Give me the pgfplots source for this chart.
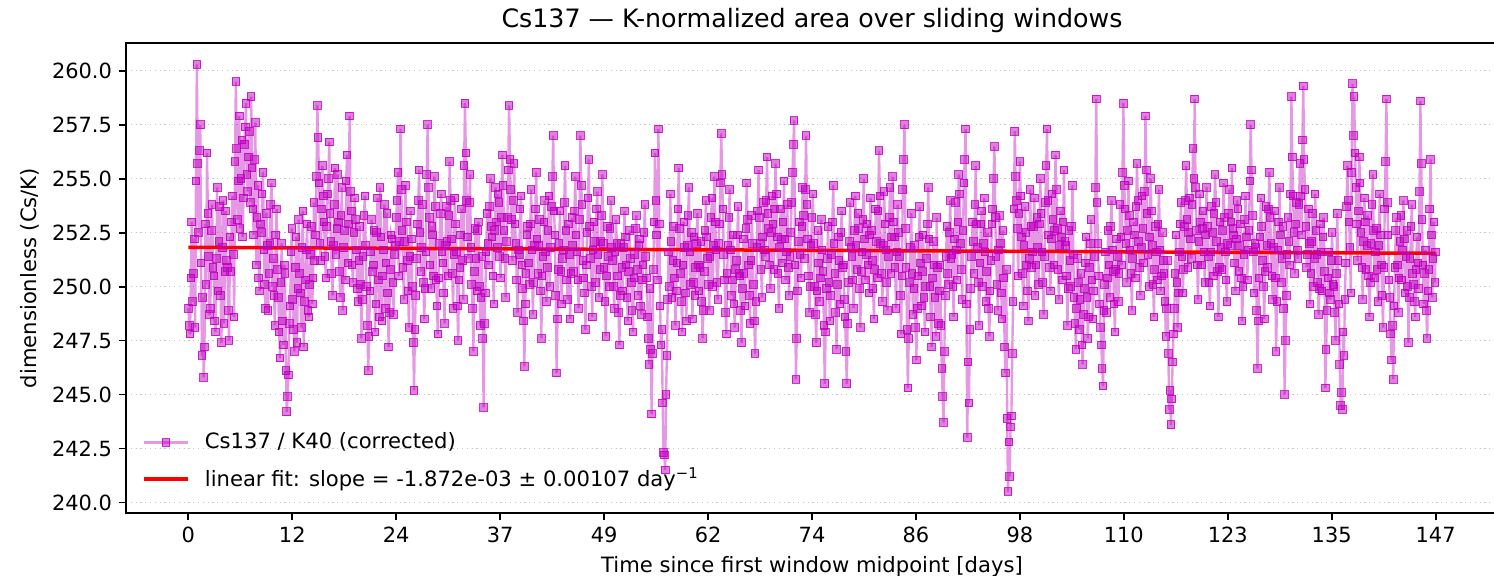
\documentclass[border=0pt]{standalone}
\usepackage{fontspec}
\setmainfont{DejaVu Sans}
\usepackage{pgfplots}
\usepackage{pgfplotstable}
\pgfplotsset{compat=1.18}
\definecolor{mag}{HTML}{BF00BF}
\definecolor{fitred}{HTML}{FF0000}

% Cs137/K40 ratio, one value every 0.1 day from day 0 to day 147 (50 values per 5-day line)
\pgfplotstableread[row sep=\\]{
y\\
249.0\\ 248.2\\ 247.8\\ 250.4\\ 253.0\\ 249.3\\ 250.6\\ 252.2\\ 248.1\\ 254.9\\ 260.3\\ 255.7\\ 252.5\\ 256.3\\ 257.5\\ 251.1\\ 246.8\\ 249.5\\ 245.8\\ 247.2\\ 252.9\\ 250.1\\ 256.2\\ 253.4\\ 251.4\\ 248.7\\ 249.0\\ 252.6\\ 253.8\\ 250.9\\ 250.5\\ 248.4\\ 247.9\\ 251.3\\ 254.6\\ 249.8\\ 252.1\\ 253.7\\ 249.6\\ 247.4\\ 251.8\\ 254.0\\ 248.3\\ 250.7\\ 253.5\\ 251.2\\ 250.9\\ 248.9\\ 247.5\\ 252.3\\
250.7\\ 253.0\\ 254.2\\ 251.5\\ 248.6\\ 255.8\\ 259.5\\ 256.4\\ 253.1\\ 254.9\\ 257.9\\ 252.7\\ 255.0\\ 256.8\\ 252.3\\ 254.1\\ 256.6\\ 257.4\\ 258.5\\ 255.2\\ 254.4\\ 256.0\\ 257.2\\ 253.9\\ 258.8\\ 255.5\\ 253.6\\ 252.4\\ 255.9\\ 257.6\\ 251.0\\ 253.2\\ 254.7\\ 250.4\\ 249.8\\ 252.9\\ 252.5\\ 254.3\\ 255.3\\ 251.7\\ 250.1\\ 249.0\\ 253.4\\ 251.9\\ 248.9\\ 250.6\\ 252.0\\ 253.8\\ 254.8\\ 250.0\\
251.3\\ 249.6\\ 248.2\\ 252.4\\ 253.6\\ 250.8\\ 249.5\\ 247.9\\ 246.7\\ 250.2\\ 252.0\\ 248.4\\ 247.3\\ 251.0\\ 250.6\\ 246.1\\ 244.2\\ 244.9\\ 245.9\\ 248.3\\ 249.1\\ 251.6\\ 252.7\\ 249.4\\ 248.0\\ 247.0\\ 250.9\\ 252.3\\ 247.4\\ 249.9\\ 253.1\\ 250.6\\ 249.7\\ 248.1\\ 251.8\\ 253.5\\ 247.2\\ 249.3\\ 250.3\\ 251.7\\ 252.9\\ 248.9\\ 248.6\\ 250.1\\ 251.5\\ 252.8\\ 249.2\\ 250.4\\ 253.9\\ 251.2\\
252.4\\ 255.1\\ 258.4\\ 256.9\\ 254.8\\ 252.0\\ 251.2\\ 253.6\\ 255.6\\ 254.2\\ 253.0\\ 251.4\\ 250.4\\ 252.8\\ 254.3\\ 255.0\\ 256.7\\ 253.4\\ 252.1\\ 250.6\\ 249.6\\ 251.9\\ 253.8\\ 255.5\\ 251.5\\ 252.7\\ 255.2\\ 253.0\\ 250.7\\ 249.5\\ 253.3\\ 254.6\\ 248.9\\ 251.8\\ 252.6\\ 250.3\\ 254.9\\ 256.1\\ 251.1\\ 252.9\\ 257.9\\ 254.4\\ 253.5\\ 251.0\\ 250.2\\ 252.5\\ 254.1\\ 253.1\\ 251.7\\ 249.9\\
249.3\\ 251.2\\ 252.8\\ 250.1\\ 247.6\\ 249.4\\ 251.4\\ 253.3\\ 254.2\\ 251.9\\ 250.0\\ 248.2\\ 246.1\\ 247.7\\ 249.8\\ 251.6\\ 253.1\\ 250.7\\ 251.0\\ 252.6\\ 247.9\\ 249.2\\ 252.5\\ 254.1\\ 250.3\\ 248.6\\ 254.6\\ 252.3\\ 248.4\\ 250.5\\ 251.7\\ 253.8\\ 249.0\\ 251.1\\ 253.4\\ 249.7\\ 247.2\\ 248.8\\ 250.8\\ 252.4\\ 252.2\\ 250.2\\ 248.7\\ 251.5\\ 251.9\\ 253.2\\ 254.0\\ 255.3\\ 250.5\\ 252.1\\
257.3\\ 254.5\\ 252.6\\ 250.9\\ 249.4\\ 252.1\\ 254.7\\ 253.0\\ 251.2\\ 249.8\\ 248.1\\ 251.4\\ 253.5\\ 252.2\\ 250.0\\ 247.4\\ 245.2\\ 248.0\\ 249.6\\ 251.3\\ 252.9\\ 254.0\\ 255.4\\ 252.5\\ 250.7\\ 251.8\\ 253.8\\ 250.2\\ 248.5\\ 249.9\\ 251.6\\ 255.2\\ 257.5\\ 254.6\\ 253.2\\ 251.0\\ 249.9\\ 252.8\\ 252.4\\ 250.5\\ 255.1\\ 253.7\\ 250.3\\ 249.1\\ 247.8\\ 250.4\\ 252.0\\ 253.4\\ 254.3\\ 251.6\\
251.1\\ 249.7\\ 248.3\\ 251.9\\ 253.7\\ 252.1\\ 250.5\\ 253.3\\ 255.8\\ 254.0\\ 252.2\\ 250.6\\ 249.0\\ 251.5\\ 254.1\\ 252.9\\ 251.6\\ 249.1\\ 247.5\\ 250.3\\ 250.9\\ 252.4\\ 253.6\\ 251.2\\ 249.4\\ 255.6\\ 258.5\\ 256.2\\ 254.0\\ 252.3\\ 251.3\\ 253.9\\ 255.2\\ 251.8\\ 250.1\\ 249.0\\ 247.0\\ 250.7\\ 252.7\\ 251.3\\ 249.8\\ 252.6\\ 253.0\\ 250.0\\ 248.2\\ 249.5\\ 251.4\\ 247.6\\ 244.4\\ 248.3\\
249.7\\ 251.6\\ 253.4\\ 252.0\\ 251.0\\ 253.7\\ 255.0\\ 252.8\\ 252.3\\ 250.5\\ 249.2\\ 252.6\\ 254.6\\ 253.0\\ 251.8\\ 254.3\\ 253.9\\ 251.4\\ 250.4\\ 253.2\\ 256.1\\ 254.7\\ 252.6\\ 251.3\\ 249.5\\ 252.1\\ 253.2\\ 255.4\\ 258.4\\ 255.9\\ 254.5\\ 253.1\\ 251.2\\ 254.0\\ 255.7\\ 252.9\\ 252.0\\ 250.3\\ 248.8\\ 251.7\\ 251.5\\ 253.6\\ 254.2\\ 251.0\\ 249.9\\ 248.4\\ 246.3\\ 249.2\\ 250.6\\ 252.4\\
252.8\\ 251.1\\ 250.1\\ 252.9\\ 254.5\\ 251.7\\ 248.7\\ 250.2\\ 251.9\\ 253.6\\ 255.3\\ 252.2\\ 250.6\\ 251.9\\ 253.1\\ 249.8\\ 247.6\\ 250.5\\ 251.4\\ 253.0\\ 254.0\\ 251.6\\ 249.3\\ 250.9\\ 252.6\\ 254.2\\ 250.0\\ 251.8\\ 253.7\\ 255.1\\ 257.0\\ 253.5\\ 252.4\\ 249.6\\ 246.0\\ 248.5\\ 250.8\\ 252.0\\ 253.5\\ 250.7\\ 249.2\\ 251.3\\ 251.7\\ 253.9\\ 255.6\\ 252.6\\ 250.3\\ 249.4\\ 252.9\\ 251.5\\
248.5\\ 250.6\\ 253.2\\ 251.9\\ 250.7\\ 253.5\\ 255.1\\ 252.4\\ 251.6\\ 250.3\\ 249.0\\ 253.1\\ 257.0\\ 254.7\\ 253.8\\ 251.2\\ 250.4\\ 249.7\\ 248.0\\ 251.0\\ 252.5\\ 254.1\\ 255.9\\ 252.8\\ 251.3\\ 250.0\\ 248.6\\ 251.7\\ 253.0\\ 252.1\\ 250.2\\ 253.6\\ 254.4\\ 251.5\\ 249.5\\ 250.8\\ 252.1\\ 253.3\\ 255.2\\ 252.0\\ 250.9\\ 249.3\\ 247.7\\ 250.5\\ 252.8\\ 251.4\\ 250.0\\ 252.7\\ 254.0\\ 251.8\\
251.2\\ 250.0\\ 249.0\\ 251.6\\ 253.1\\ 252.0\\ 250.5\\ 248.8\\ 247.3\\ 249.6\\ 252.0\\ 250.9\\ 249.8\\ 251.8\\ 253.5\\ 252.3\\ 251.0\\ 249.5\\ 248.4\\ 250.7\\ 252.6\\ 251.3\\ 250.2\\ 248.9\\ 247.9\\ 250.4\\ 251.5\\ 252.7\\ 253.3\\ 250.8\\ 249.6\\ 251.9\\ 252.2\\ 249.1\\ 248.7\\ 250.3\\ 251.0\\ 252.5\\ 253.8\\ 251.4\\ 250.4\\ 248.6\\ 247.6\\ 246.4\\ 249.9\\ 247.1\\ 244.1\\ 246.9\\ 250.8\\ 253.0\\
256.2\\ 254.0\\ 252.4\\ 250.3\\ 257.3\\ 252.9\\ 249.1\\ 247.3\\ 248.0\\ 244.6\\ 242.3\\ 242.2\\ 241.5\\ 245.0\\ 246.8\\ 249.4\\ 251.6\\ 250.0\\ 254.3\\ 252.1\\ 249.5\\ 251.2\\ 252.8\\ 250.4\\ 248.2\\ 249.8\\ 251.1\\ 253.6\\ 255.5\\ 252.7\\ 250.6\\ 249.3\\ 247.9\\ 251.0\\ 253.0\\ 251.8\\ 249.7\\ 248.4\\ 251.9\\ 253.3\\ 254.6\\ 251.6\\ 250.1\\ 252.5\\ 248.5\\ 250.2\\ 252.3\\ 249.6\\ 250.9\\ 252.0\\
253.4\\ 251.0\\ 249.8\\ 250.9\\ 252.1\\ 249.3\\ 247.6\\ 248.9\\ 250.7\\ 252.6\\ 254.0\\ 252.3\\ 251.3\\ 250.1\\ 248.9\\ 251.4\\ 253.2\\ 254.1\\ 250.0\\ 251.9\\ 255.1\\ 253.0\\ 251.7\\ 250.2\\ 249.4\\ 252.0\\ 252.9\\ 254.8\\ 257.1\\ 255.2\\ 253.6\\ 251.5\\ 250.3\\ 248.8\\ 247.8\\ 250.6\\ 251.9\\ 253.2\\ 254.5\\ 251.7\\ 249.6\\ 250.3\\ 252.4\\ 249.2\\ 248.1\\ 250.8\\ 251.2\\ 252.4\\ 253.7\\ 250.6\\
250.5\\ 248.9\\ 247.4\\ 249.9\\ 252.2\\ 250.6\\ 249.1\\ 252.7\\ 254.8\\ 253.1\\ 251.0\\ 249.6\\ 248.3\\ 251.2\\ 253.3\\ 252.0\\ 250.1\\ 248.4\\ 246.9\\ 249.3\\ 251.8\\ 253.5\\ 255.4\\ 253.2\\ 252.0\\ 250.8\\ 249.5\\ 252.3\\ 253.9\\ 251.7\\ 251.4\\ 254.0\\ 256.0\\ 253.4\\ 252.7\\ 251.0\\ 249.9\\ 252.5\\ 254.2\\ 252.9\\ 250.8\\ 253.6\\ 255.7\\ 254.3\\ 252.3\\ 250.6\\ 249.0\\ 251.8\\ 253.6\\ 252.2\\
251.1\\ 253.0\\ 254.9\\ 252.2\\ 250.3\\ 251.6\\ 253.8\\ 250.9\\ 249.6\\ 251.4\\ 252.5\\ 253.9\\ 255.3\\ 256.6\\ 257.7\\ 251.0\\ 245.7\\ 247.6\\ 249.8\\ 252.1\\ 253.0\\ 251.5\\ 250.4\\ 252.8\\ 254.6\\ 253.3\\ 251.3\\ 254.5\\ 257.0\\ 253.8\\ 252.2\\ 250.5\\ 248.8\\ 250.0\\ 251.9\\ 253.2\\ 254.3\\ 252.0\\ 250.0\\ 248.7\\ 247.4\\ 249.8\\ 252.6\\ 251.1\\ 249.3\\ 250.4\\ 253.1\\ 251.7\\ 250.7\\ 248.2\\
245.5\\ 247.9\\ 249.9\\ 251.3\\ 252.8\\ 250.2\\ 248.4\\ 249.6\\ 251.5\\ 253.0\\ 254.7\\ 252.0\\ 250.6\\ 248.8\\ 247.1\\ 250.1\\ 252.3\\ 251.2\\ 249.2\\ 252.5\\ 253.5\\ 250.9\\ 251.0\\ 249.4\\ 248.6\\ 247.0\\ 245.5\\ 248.3\\ 250.2\\ 252.1\\ 253.9\\ 251.8\\ 251.4\\ 250.3\\ 249.0\\ 252.6\\ 254.2\\ 251.9\\ 250.8\\ 253.4\\ 252.7\\ 249.9\\ 248.1\\ 250.7\\ 251.6\\ 253.1\\ 255.0\\ 252.2\\ 250.3\\ 251.5\\
252.9\\ 251.0\\ 249.7\\ 252.4\\ 254.1\\ 252.6\\ 251.2\\ 249.9\\ 248.5\\ 250.8\\ 253.6\\ 252.1\\ 250.4\\ 253.5\\ 256.3\\ 254.2\\ 252.0\\ 250.6\\ 249.3\\ 251.9\\ 254.4\\ 252.9\\ 251.7\\ 250.2\\ 248.9\\ 251.4\\ 253.2\\ 254.6\\ 250.6\\ 252.3\\ 255.1\\ 253.0\\ 252.3\\ 250.9\\ 249.0\\ 251.6\\ 253.8\\ 252.5\\ 251.4\\ 249.6\\ 247.8\\ 250.5\\ 254.5\\ 255.9\\ 257.5\\ 252.7\\ 250.9\\ 248.0\\ 245.3\\ 247.6\\
250.2\\ 251.8\\ 253.4\\ 250.6\\ 248.7\\ 249.9\\ 251.9\\ 248.1\\ 246.6\\ 249.0\\ 250.5\\ 252.3\\ 253.7\\ 251.1\\ 249.1\\ 250.7\\ 252.4\\ 249.5\\ 247.9\\ 250.0\\ 251.3\\ 252.9\\ 254.6\\ 252.2\\ 250.0\\ 248.6\\ 247.2\\ 250.4\\ 252.1\\ 251.0\\ 249.5\\ 247.7\\ 253.2\\ 250.9\\ 248.3\\ 249.8\\ 251.0\\ 248.2\\ 246.2\\ 244.9\\ 243.7\\ 247.0\\ 249.6\\ 251.4\\ 252.8\\ 250.6\\ 250.1\\ 252.5\\ 254.0\\ 251.3\\
251.5\\ 250.0\\ 248.6\\ 252.2\\ 253.9\\ 251.7\\ 250.3\\ 253.0\\ 255.2\\ 254.3\\ 252.0\\ 250.8\\ 249.4\\ 252.6\\ 254.8\\ 255.9\\ 257.3\\ 249.2\\ 243.0\\ 246.5\\ 244.6\\ 248.0\\ 249.9\\ 251.4\\ 253.0\\ 252.1\\ 250.6\\ 253.8\\ 255.6\\ 252.9\\ 251.8\\ 250.2\\ 248.2\\ 251.1\\ 252.9\\ 253.5\\ 250.0\\ 252.0\\ 254.1\\ 251.6\\ 249.3\\ 250.7\\ 252.5\\ 249.0\\ 247.7\\ 249.8\\ 251.2\\ 252.9\\ 253.6\\ 255.0\\
256.5\\ 253.2\\ 251.4\\ 250.1\\ 248.9\\ 251.7\\ 253.3\\ 252.0\\ 249.7\\ 248.5\\ 252.6\\ 250.4\\ 247.2\\ 246.0\\ 250.8\\ 243.9\\ 240.5\\ 242.8\\ 241.2\\ 243.5\\ 244.0\\ 246.9\\ 249.3\\ 253.6\\ 257.2\\ 255.1\\ 254.0\\ 252.7\\ 250.5\\ 253.4\\ 255.8\\ 254.2\\ 252.3\\ 250.6\\ 249.1\\ 251.9\\ 253.7\\ 252.5\\ 251.0\\ 249.8\\ 248.4\\ 251.3\\ 254.5\\ 252.8\\ 250.9\\ 251.6\\ 252.8\\ 254.1\\ 249.6\\ 251.0\\
253.2\\ 251.8\\ 250.1\\ 252.9\\ 255.0\\ 253.4\\ 251.6\\ 250.2\\ 248.7\\ 251.4\\ 253.9\\ 255.6\\ 257.3\\ 254.0\\ 252.4\\ 250.9\\ 249.8\\ 252.2\\ 254.3\\ 253.1\\ 251.0\\ 252.6\\ 256.1\\ 254.5\\ 252.7\\ 250.8\\ 249.4\\ 251.9\\ 253.5\\ 252.3\\ 250.3\\ 253.0\\ 255.4\\ 252.1\\ 251.9\\ 250.5\\ 248.2\\ 249.9\\ 252.6\\ 251.2\\ 250.0\\ 252.8\\ 254.7\\ 251.5\\ 249.5\\ 248.3\\ 247.1\\ 249.0\\ 251.3\\ 250.2\\
248.0\\ 249.4\\ 250.6\\ 247.3\\ 246.4\\ 248.7\\ 249.9\\ 251.1\\ 252.3\\ 249.5\\ 247.6\\ 248.6\\ 250.9\\ 252.0\\ 253.1\\ 250.3\\ 248.5\\ 249.8\\ 251.4\\ 254.6\\ 258.7\\ 253.9\\ 252.0\\ 250.5\\ 249.2\\ 248.1\\ 247.3\\ 246.2\\ 245.4\\ 248.9\\ 250.1\\ 251.6\\ 248.8\\ 250.4\\ 252.6\\ 251.0\\ 249.5\\ 252.8\\ 254.0\\ 251.7\\ 250.7\\ 249.2\\ 247.9\\ 250.8\\ 252.2\\ 251.4\\ 249.3\\ 250.6\\ 253.8\\ 252.3\\
251.0\\ 255.3\\ 258.5\\ 254.7\\ 253.6\\ 252.0\\ 250.2\\ 252.6\\ 254.9\\ 253.3\\ 251.7\\ 250.6\\ 248.9\\ 251.3\\ 253.0\\ 252.4\\ 250.4\\ 253.7\\ 255.7\\ 254.0\\ 252.1\\ 250.9\\ 249.6\\ 251.8\\ 254.2\\ 252.7\\ 251.1\\ 254.4\\ 257.9\\ 255.4\\ 253.4\\ 251.5\\ 250.0\\ 252.3\\ 255.0\\ 253.5\\ 251.9\\ 250.1\\ 248.6\\ 250.8\\ 252.8\\ 251.6\\ 250.3\\ 252.9\\ 254.5\\ 251.7\\ 249.8\\ 250.5\\ 252.5\\ 251.2\\
250.6\\ 249.3\\ 247.7\\ 249.0\\ 251.2\\ 246.9\\ 244.3\\ 245.2\\ 243.6\\ 244.8\\ 246.5\\ 247.8\\ 249.0\\ 250.6\\ 252.4\\ 250.2\\ 248.1\\ 249.7\\ 251.6\\ 252.9\\ 253.9\\ 251.4\\ 249.7\\ 250.8\\ 252.8\\ 254.0\\ 255.6\\ 253.1\\ 250.9\\ 252.5\\ 254.1\\ 252.2\\ 251.3\\ 253.8\\ 256.4\\ 255.0\\ 258.7\\ 254.6\\ 252.6\\ 251.0\\ 249.4\\ 252.1\\ 254.3\\ 253.0\\ 251.0\\ 252.7\\ 253.5\\ 251.6\\ 250.2\\ 252.4\\
254.6\\ 252.8\\ 251.4\\ 250.2\\ 249.1\\ 251.6\\ 253.7\\ 252.5\\ 250.5\\ 253.4\\ 255.2\\ 253.9\\ 252.1\\ 250.7\\ 248.6\\ 250.9\\ 253.0\\ 251.8\\ 250.8\\ 252.6\\ 254.8\\ 253.2\\ 251.6\\ 250.3\\ 249.3\\ 252.0\\ 253.4\\ 254.5\\ 251.9\\ 253.0\\ 255.5\\ 252.7\\ 252.4\\ 251.1\\ 249.8\\ 252.2\\ 254.0\\ 253.6\\ 250.7\\ 251.9\\ 252.9\\ 250.4\\ 248.4\\ 250.0\\ 251.5\\ 253.1\\ 254.2\\ 252.3\\ 250.3\\ 251.7\\
252.6\\ 254.9\\ 257.5\\ 255.4\\ 253.3\\ 251.6\\ 249.7\\ 252.0\\ 251.8\\ 248.9\\ 246.2\\ 248.4\\ 250.4\\ 252.3\\ 254.1\\ 252.8\\ 251.2\\ 250.0\\ 248.5\\ 250.7\\ 253.7\\ 251.9\\ 250.9\\ 253.6\\ 255.3\\ 253.2\\ 252.0\\ 250.5\\ 249.4\\ 251.8\\ 253.5\\ 250.4\\ 247.0\\ 249.3\\ 251.7\\ 253.0\\ 254.6\\ 252.4\\ 250.2\\ 251.3\\ 252.8\\ 249.0\\ 245.0\\ 247.5\\ 249.6\\ 251.5\\ 253.2\\ 252.1\\ 251.0\\ 254.3\\
258.8\\ 256.0\\ 254.2\\ 252.5\\ 250.6\\ 252.9\\ 253.9\\ 251.7\\ 251.3\\ 253.8\\ 255.7\\ 254.2\\ 252.4\\ 256.8\\ 259.3\\ 255.9\\ 254.5\\ 252.8\\ 250.9\\ 251.5\\ 253.6\\ 252.0\\ 249.2\\ 250.6\\ 252.1\\ 253.4\\ 250.0\\ 251.3\\ 254.3\\ 252.6\\ 251.5\\ 250.2\\ 248.7\\ 249.9\\ 252.9\\ 251.6\\ 249.8\\ 252.3\\ 253.2\\ 250.7\\ 245.3\\ 247.1\\ 248.9\\ 250.4\\ 251.6\\ 249.7\\ 249.4\\ 251.2\\ 252.5\\ 250.1\\
250.0\\ 248.8\\ 247.5\\ 250.6\\ 253.4\\ 251.2\\ 249.2\\ 246.4\\ 244.5\\ 245.1\\ 244.3\\ 247.9\\ 246.8\\ 249.4\\ 251.1\\ 253.7\\ 255.6\\ 254.0\\ 253.0\\ 251.8\\ 249.7\\ 255.3\\ 259.4\\ 257.0\\ 258.8\\ 256.2\\ 254.6\\ 252.9\\ 251.2\\ 253.5\\ 256.0\\ 254.8\\ 252.5\\ 250.9\\ 249.4\\ 252.1\\ 254.1\\ 253.0\\ 250.8\\ 251.9\\ 253.3\\ 250.5\\ 248.6\\ 250.2\\ 252.0\\ 253.8\\ 255.2\\ 252.6\\ 250.4\\ 251.6\\
252.7\\ 250.8\\ 249.3\\ 251.9\\ 254.3\\ 252.4\\ 251.0\\ 249.6\\ 248.1\\ 250.9\\ 253.6\\ 255.8\\ 258.7\\ 253.9\\ 252.4\\ 250.3\\ 249.5\\ 247.8\\ 246.6\\ 248.2\\ 245.7\\ 249.1\\ 250.9\\ 252.6\\ 253.2\\ 251.0\\ 248.8\\ 250.4\\ 252.1\\ 253.3\\ 250.3\\ 251.7\\ 254.0\\ 252.2\\ 249.7\\ 251.4\\ 252.6\\ 250.0\\ 247.4\\ 249.5\\ 251.3\\ 252.8\\ 253.8\\ 250.6\\ 250.1\\ 249.3\\ 248.6\\ 250.8\\ 252.3\\ 251.1\\
249.9\\ 254.4\\ 258.6\\ 255.7\\ 253.1\\ 251.0\\ 249.2\\ 250.6\\ 251.7\\ 248.9\\ 247.6\\ 249.8\\ 250.8\\ 253.6\\ 255.9\\ 252.4\\ 249.5\\ 251.3\\ 253.0\\ 250.2\\ 251.6\\
}\ratiotable

\begin{document}
\begin{tikzpicture}
\begin{axis}[
  name=ax,
  scale only axis, width=686bp, height=235bp,
  xmin=-7.35, xmax=154.35, ymin=239.51, ymax=261.29,
  axis line style={line width=0.9bp, black},
  tick style={line width=0.9bp, black},
  major tick length=3.5bp,
  tick align=outside,
  xtick pos=bottom, ytick pos=left,
  xtick={0,12.25,24.5,36.75,49,61.25,73.5,85.75,98,110.25,122.5,134.75,147},
  xticklabels={0,12,24,37,49,62,74,86,98,110,123,135,147},
  ytick={240,242.5,245,247.5,250,252.5,255,257.5,260},
  yticklabel style={/pgf/number format/.cd, fixed, fixed zerofill, precision=1, assume math mode=true},
  tick label style={font=\fontsize{10.5}{12}\selectfont},
  ymajorgrids,
  major grid style={gray!45, line width=0.6bp, dash pattern=on 0.6bp off 1.8bp},
  title={Cs137 — K-normalized area over sliding windows},
  title style={font=\fontsize{12.7}{15}\selectfont, at={(axis description cs:0.5,1)}, anchor=center, yshift=5.5bp},
  xlabel={Time since first window midpoint [days]},
  xlabel style={font=\fontsize{10.6}{12}\selectfont, at={(axis description cs:0.5,0)}, anchor=center, yshift=-27bp},
  ylabel={dimensionless (Cs/K)},
  ylabel style={font=\fontsize{10.6}{12}\selectfont, at={(axis description cs:-0.07,0.5)}, anchor=center},
  legend cell align=left,
  legend style={draw=none, fill=none, at={(axis description cs:0,0)}, anchor=south west,
    xshift=8bp, yshift=10bp, font=\fontsize{10.6}{12}\selectfont, row sep=5bp,
    inner sep=0pt, nodes={inner sep=1.5bp},
    /tikz/every odd column/.append style={column sep=6bp}},
  legend image code/.code={\draw[mark repeat=2,mark phase=2,#1] plot coordinates {(0bp,0bp) (11bp,0bp) (22bp,0bp)};},
]
\addplot[mag, draw opacity=0.4, line width=1.2bp, mark=square*, mark size=1.9bp,
  mark options={solid, fill=mag, fill opacity=0.5, draw opacity=0.8, line width=0.5bp}]
  table[x expr=\coordindex*0.1, y=y] {\ratiotable};
\addlegendentry{Cs137 / K40 (corrected)}
\addplot[fitred, line width=1.75bp, no marks] coordinates {(0,251.82) (147,251.545)};
\addlegendentry{linear fit: slope = -1.872e-03 ± 0.00107 day\textsuperscript{−1}}
\end{axis}
\pgfresetboundingbox
\useasboundingbox (ax.south west) ++(-63bp,-31.5bp) rectangle ++(747bp,288bp);
\end{tikzpicture}
\end{document}
